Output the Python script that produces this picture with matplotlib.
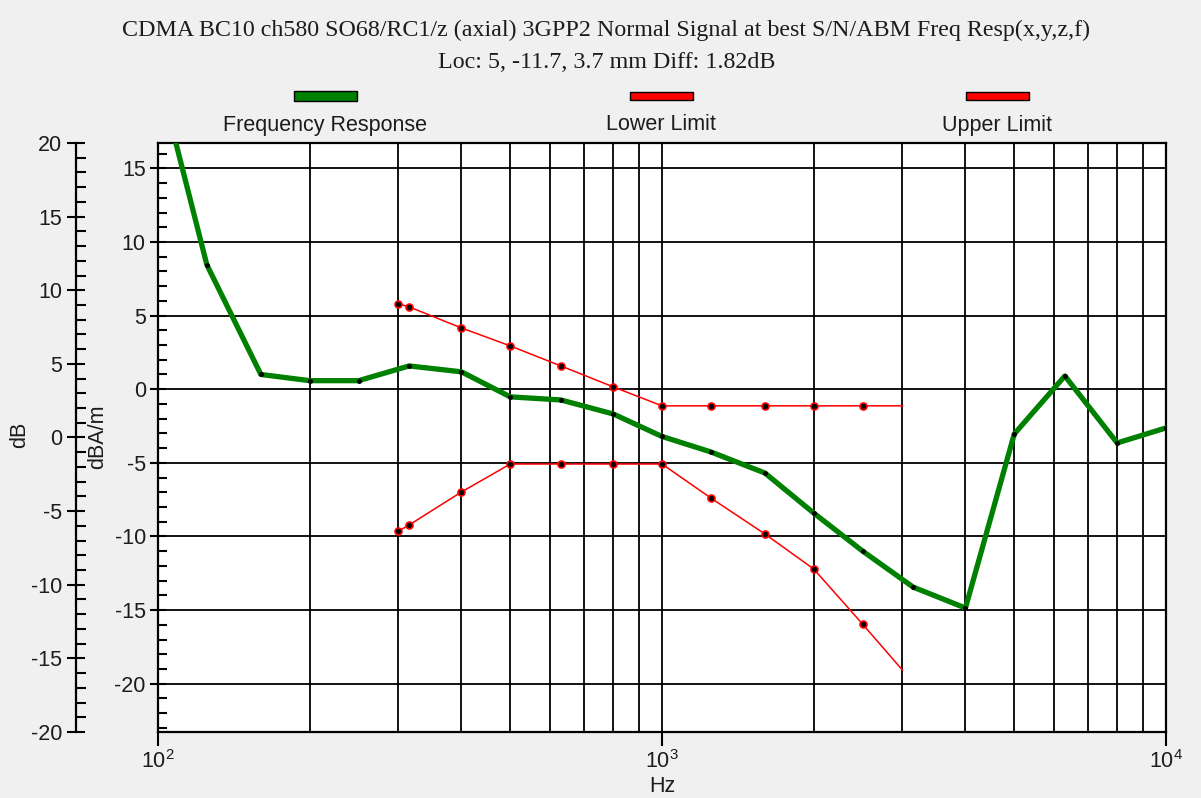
import matplotlib
matplotlib.use("Agg")
import matplotlib.pyplot as plt
from matplotlib.patches import Rectangle
from matplotlib.ticker import MultipleLocator, LogLocator, FixedLocator, FixedFormatter, NullFormatter

# ---- data -------------------------------------------------------------
freq_hz = [100, 125, 160, 200, 250, 315, 400, 500, 630, 800, 1000,
           1250, 1600, 2000, 2500, 3150, 4000, 5000, 6300, 8000, 10000]
response_dbam = [21.5, 8.45, 1.0, 0.58, 0.58, 1.58, 1.18, -0.52, -0.73, -1.68, -3.21,
                 -4.26, -5.69, -8.41, -10.99, -13.44, -14.86, -3.04, 0.90, -3.65, -2.63]

limit_freq_hz = [300, 315, 400, 500, 630, 800, 1000, 1250, 1600, 2000, 2500, 3000]
lower_limit = [-9.63, -9.22, -6.98, -5.08, -5.08, -5.08, -5.08, -7.39, -9.83, -12.21, -15.95, -19.08]
upper_limit = [5.80, 5.59, 4.16, 2.94, 1.58, 0.16, -1.13, -1.13, -1.13, -1.13, -1.13, -1.13]

db_offset = 3.28          # dB scale minus dBA/m scale
x_tick_vals = [100, 1000, 10000]
x_tick_labels = [r"$\mathregular{10^{2}}$", r"$\mathregular{10^{3}}$", r"$\mathregular{10^{4}}$"]

title_line1 = "CDMA BC10 ch580 SO68/RC1/z (axial) 3GPP2 Normal Signal at best S/N/ABM Freq Resp(x,y,z,f)"
title_line2 = "Loc: 5, -11.7, 3.7 mm Diff: 1.82dB"
legend_names = ["Frequency Response", "Lower Limit", "Upper Limit"]

# ---- style ------------------------------------------------------------
plt.rcParams["font.family"] = ["Liberation Sans", "DejaVu Sans"]
plt.rcParams["mathtext.fontset"] = "custom"
plt.rcParams["mathtext.rm"] = "Liberation Sans"
plt.rcParams["axes.unicode_minus"] = False
SANS = ["Liberation Sans", "DejaVu Sans"]
SERIF = ["Liberation Serif", "DejaVu Serif"]
TXT = "#1c1c1c"
GREEN = "#008000"
FS = 15.5

W, H = 1201, 798
fig = plt.figure(figsize=(W / 100, H / 100), dpi=100, facecolor="#f0f0f0")


def fx(x):
    return x / W


def fy(y):
    return 1 - y / H


L, R, T, B = 158, 1166, 143, 732
ax = fig.add_axes([fx(L), fy(B), (R - L) / W, (B - T) / H])
ax.set_facecolor("white")
ax.set_xscale("log")
ax.set_xlim(100, 10000)
ax.set_ylim(-20 - db_offset, 20 - db_offset)
ax.set_axisbelow(True)

for s in ax.spines.values():
    s.set_color("black")
    s.set_linewidth(1.6)

ax.xaxis.set_major_locator(FixedLocator(x_tick_vals))
ax.xaxis.set_major_formatter(FixedFormatter(x_tick_labels))
ax.xaxis.set_minor_locator(LogLocator(base=10, subs=range(2, 10)))
ax.xaxis.set_minor_formatter(NullFormatter())
ax.tick_params(axis="x", which="major", direction="out", length=10, width=1.5,
               labelsize=FS, labelcolor=TXT, pad=3)
ax.tick_params(axis="x", which="minor", length=0)

ax.yaxis.set_major_locator(MultipleLocator(5))
ax.yaxis.set_minor_locator(MultipleLocator(1))
ax.tick_params(axis="y", which="major", direction="inout", length=11.5, width=1.5,
               labelsize=FS, labelcolor=TXT, pad=3)
ax.tick_params(axis="y", which="minor", direction="in", length=6.5, width=1.5)

ax.grid(True, axis="x", which="both", color="black", lw=1.3)
ax.grid(True, axis="y", which="major", color="black", lw=1.3)

# outer dB scale
axdb = fig.add_axes([fx(76), fy(B), 0.0001, (B - T) / H])
axdb.patch.set_visible(False)
axdb.set_ylim(-20, 20)
axdb.set_xticks([])
for side in ("top", "bottom", "right"):
    axdb.spines[side].set_visible(False)
axdb.spines["left"].set_linewidth(1.6)
axdb.yaxis.set_major_locator(MultipleLocator(5))
axdb.yaxis.set_minor_locator(MultipleLocator(1))
axdb.tick_params(axis="y", which="major", direction="inout", length=13.5, width=1.5,
                 labelsize=FS, labelcolor=TXT, pad=3)
axdb.tick_params(axis="y", which="minor", direction="in", length=7, width=1.5)

# ---- curves -----------------------------------------------------------
last = list(range(len(limit_freq_hz) - 1))
ax.plot(limit_freq_hz, lower_limit, color="red", lw=1.1, marker="o", ms=5,
        mfc="black", mec="red", mew=1.2, markevery=last, zorder=4)
ax.plot(limit_freq_hz, upper_limit, color="red", lw=1.1, marker="o", ms=5,
        mfc="black", mec="red", mew=1.2, markevery=last, zorder=4)
ax.plot(freq_hz, response_dbam, color=GREEN, lw=3.8, marker="o", ms=3.6,
        mfc="black", mec="black", mew=0, zorder=5)

# ---- titles, legend and axis names ------------------------------------
fig.text(fx(606.5), fy(30), title_line1, ha="center", va="center",
         fontsize=17.3, family=SERIF, color=TXT)
fig.text(fx(606.5), fy(62), title_line2, ha="center", va="center",
         fontsize=17.3, family=SERIF, color=TXT)

legend_centers = [325, 661, 997]
legend_colors = [GREEN, "red", "red"]
legend_heights = [10, 7, 7]
for cx, col, hgt, name in zip(legend_centers, legend_colors, legend_heights, legend_names):
    fig.patches.append(Rectangle((fx(cx - 31.5), fy(96 + hgt / 2)), 63 / W, hgt / H,
                                 facecolor=col, edgecolor="black", lw=1.0,
                                 transform=fig.transFigure, figure=fig))
    fig.text(fx(cx), fy(125), name, ha="center", va="center",
             fontsize=FS, family=SANS, color=TXT)

fig.text(fx(20), fy(435), "dB", rotation=90, ha="center", va="center",
         fontsize=FS, family=SANS, color=TXT)
fig.text(fx(98), fy(437), "dBA/m", rotation=90, ha="center", va="center",
         fontsize=FS, family=SANS, color=TXT)
fig.text(fx(662), fy(786), "Hz", ha="center", va="center",
         fontsize=FS, family=SANS, color=TXT)

fig.savefig("out.png", dpi=100, facecolor=fig.get_facecolor())
